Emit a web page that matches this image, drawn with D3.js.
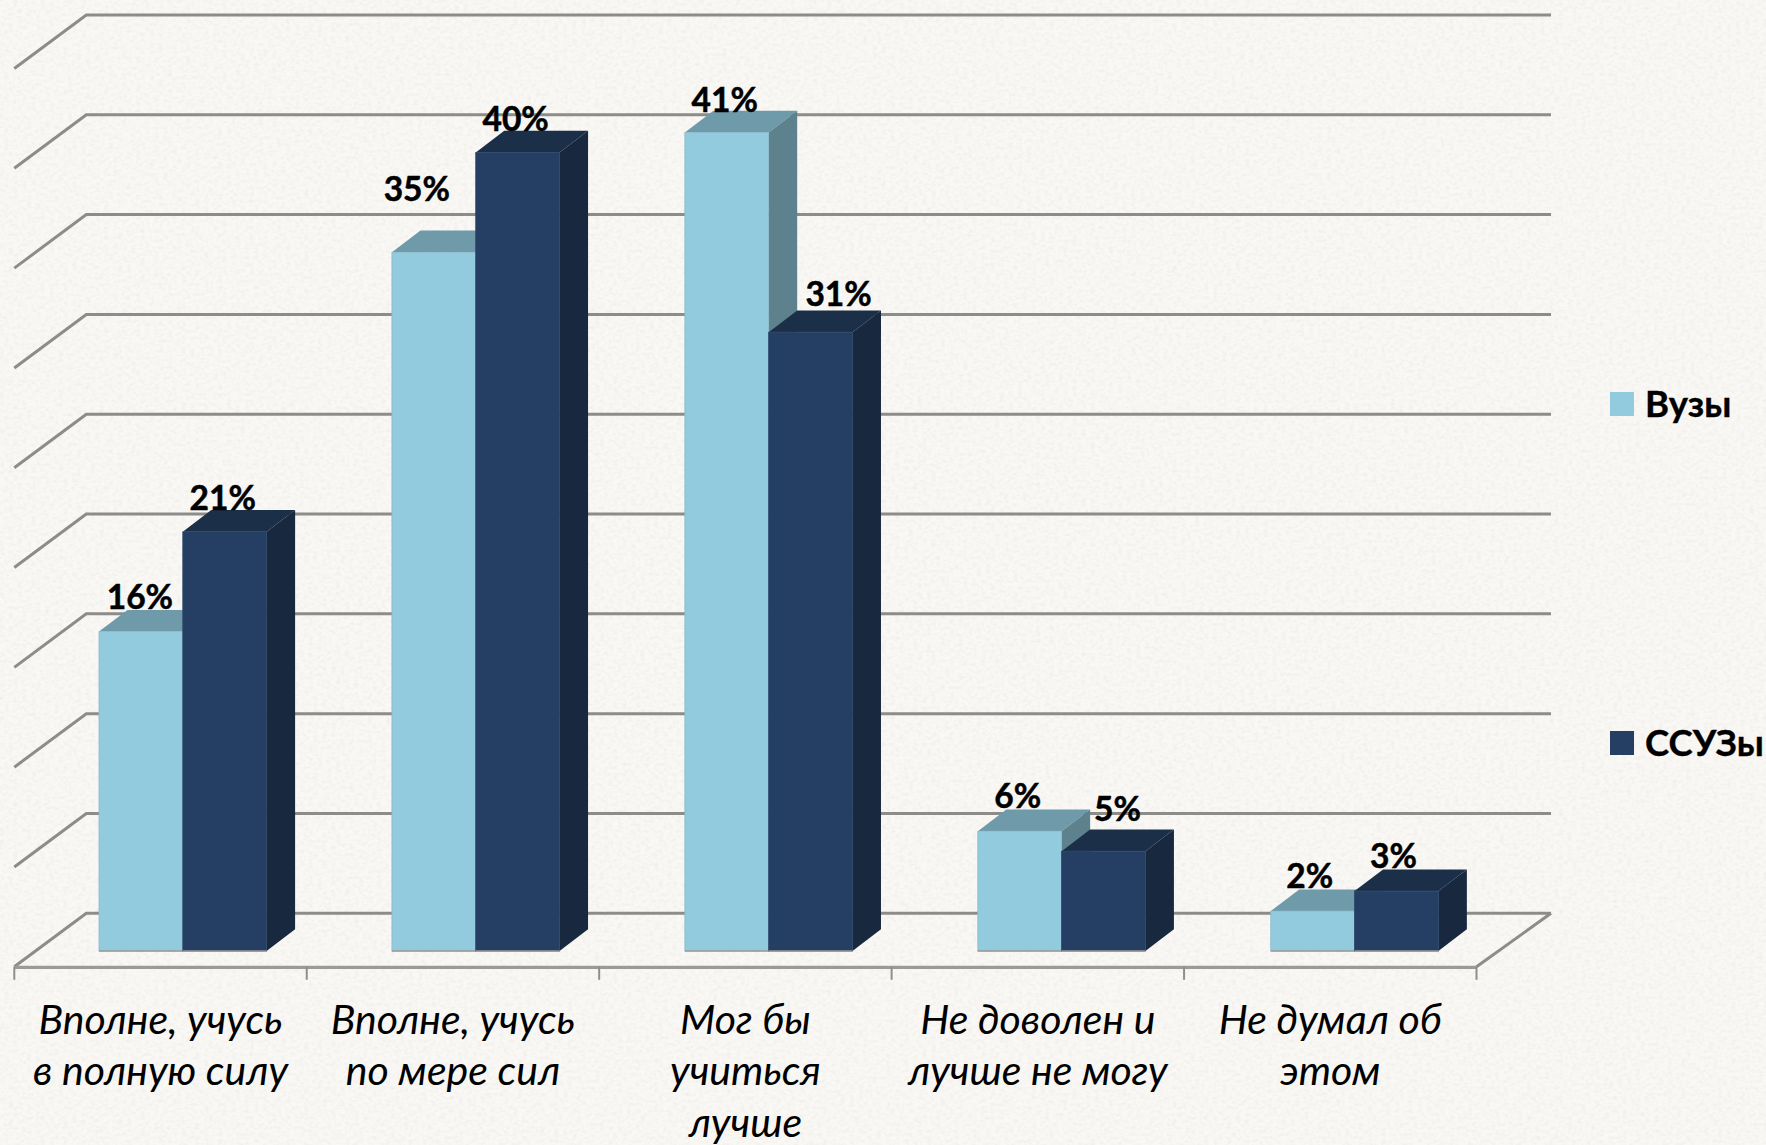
<!DOCTYPE html>
<html>
<head>
<meta charset="utf-8">
<script src="https://cdn.jsdelivr.net/npm/d3@7"></script>
<style>
  html, body { margin: 0; padding: 0; background: #f7f6f2; }
  svg { display: block; }
  text { font-family: Lato, "Open Sans", sans-serif; fill: #000; }
</style>
</head>
<body>
<svg id="chart" width="1766" height="1145"></svg>
<script>
const categories = ["Вполне, учусь в полную силу", "Вполне, учусь по мере сил", "Мог бы учиться лучше", "Не доволен и лучше не могу", "Не думал об этом"];
const categoryLines = [
    ["Вполне, учусь", "в полную силу"],
    ["Вполне, учусь", "по мере сил"],
    ["Мог бы", "учиться", "лучше"],
    ["Не доволен и", "лучше не могу"],
    ["Не думал об", "этом"]
];
const seriesNames = ["Вузы", "ССУЗы"];
const vuzy = [16, 35, 41, 6, 2];
const ssuzy = [21, 40, 31, 5, 3];
const yTicks = [0, 5, 10, 15, 20, 25, 30, 35, 40, 45];

const width = 1766, height = 1145;

// colours for each series: front, top, side
const colors = [
    { front: "#92cbdd", top: "#6f9aa9", side: "#5d818d", edge: "#8ab9ca" },
    { front: "#243f63", top: "#1c2f49", side: "#17283f", edge: "#2c4668" }
];

// wall and floor offsets of the fake 3d box
const wallDx = 72, wallDy = 53.5;
const wallEnd = 1551;
const barDx = 28.5, barDy = 21.7;
const barFront = 37.7; // bars stand this far below the back wall
const barW = 83.8;

// hand placed value labels, [dx, dy] from the middle of the bar's front top edge
const labelNudge = [
    [[-1, -23], [-2, -22]],
    [[-17, -51], [-2, -22]],
    [[-2, -21], [28, -26]],
    [[-2, -23], [14, -30]],
    [[-3, -23], [-3, -23]]
];

const x = d3.scaleBand().domain(categories).range([14.3, 1476.5]);
const y = d3.scaleLinear().domain([0, 45]).range([913.3, 15]);

const svg = d3.select("#chart");

// linen texture
const defs = svg.append("defs");
const filter = defs.append("filter").attr("id", "linen").attr("x", 0).attr("y", 0).attr("width", "100%").attr("height", "100%");
filter.append("feTurbulence").attr("type", "fractalNoise").attr("baseFrequency", "0.22 0.3").attr("numOctaves", 3).attr("seed", 4);
filter.append("feColorMatrix").attr("type", "matrix")
    .attr("values", "0 0 0 0 0.45  0 0 0 0 0.44  0 0 0 0 0.40  0.9 0 0 0 -0.36");

svg.append("rect").attr("width", width).attr("height", height).attr("fill", "#f9f8f5");
svg.append("rect").attr("width", width).attr("height", height).attr("filter", "url(#linen)").attr("opacity", 0.3);

// walls
const grid = svg.append("g").attr("fill", "none").attr("stroke", "#8d8c88").attr("stroke-width", 3);
yTicks.forEach(t => {
    const b = x.range()[0] + wallDx;
    grid.append("path").attr("d", d3.line()([[x.range()[0], y(t) + wallDy], [b, y(t)], [wallEnd, y(t)]]));
});
grid.append("path").attr("d", d3.line()([[x.range()[1], y(0) + wallDy], [wallEnd, y(0)]]));

// floor axis
const axis = d3.axisBottom(x).tickSize(0).tickFormat("");
const axisG = svg.append("g").attr("transform", `translate(0,${y(0) + wallDy})`).call(axis);
axisG.select(".domain").attr("stroke", "#9b9a96").attr("stroke-width", 3.2);
const tickXs = categories.map(c => x(c)).concat(x.range()[1]);
axisG.selectAll(".edge").data(tickXs).join("line").attr("class", "edge")
    .attr("x1", d => d).attr("x2", d => d).attr("y1", 0).attr("y2", 13)
    .attr("stroke", "#8f8e8a").attr("stroke-width", 2);

function drawBar(g, left, value, c) {
    const top = y(value) + barFront, base = y(0) + barFront;
    g.append("polygon").attr("fill", c.top)
        .attr("points", [[left, top], [left + barDx, top - barDy], [left + barW + barDx, top - barDy], [left + barW, top]].join(" "));
    g.append("polygon").attr("fill", c.side)
        .attr("points", [[left + barW, top], [left + barW + barDx, top - barDy], [left + barW + barDx, base - barDy], [left + barW, base]].join(" "));
    g.append("rect").attr("x", left).attr("y", top).attr("width", barW).attr("height", base - top)
        .attr("fill", c.front).attr("stroke", c.edge).attr("stroke-width", 0.8);
    g.append("line").attr("x1", left).attr("x2", left + barW).attr("y1", base).attr("y2", base)
        .attr("stroke", "#9b9a96").attr("stroke-width", 1.6);
}

const bars = svg.append("g");
categories.forEach((cat, i) => {
    const left = x(cat) + 84.7 + i * 0.5;
    drawBar(bars, left, vuzy[i], colors[0]);
    drawBar(bars, left + barW, ssuzy[i], colors[1]);
});

// value labels on top of every bar
const labels = svg.append("g").attr("font-size", 33.5).attr("font-weight", 700).attr("text-anchor", "middle")
    .attr("stroke", "#000").attr("stroke-width", 0.5);
categories.forEach((cat, i) => {
    const left = x(cat) + 84.7 + i * 0.5;
    [vuzy[i], ssuzy[i]].forEach((v, s) => {
        labels.append("text")
            .attr("x", left + barW * s + barW / 2 + labelNudge[i][s][0])
            .attr("y", y(v) + barFront + labelNudge[i][s][1])
            .text(v + "%");
    });
});

// category labels
const catG = svg.append("g").attr("font-size", 41).attr("font-style", "italic").attr("text-anchor", "middle");
categories.forEach((cat, i) => {
    categoryLines[i].forEach((line, k) => {
        catG.append("text").attr("x", x(cat) + x.bandwidth() / 2).attr("y", 1033.5 + k * 51.5).text(line);
    });
});

// legend
const legendY = [416, 755];
seriesNames.forEach((name, i) => {
    svg.append("rect").attr("x", 1610).attr("y", legendY[i] - 24).attr("width", 24).attr("height", 24).attr("fill", colors[i].front);
    svg.append("text").attr("x", 1645).attr("y", legendY[i] + 1).attr("font-size", 36.5).attr("font-weight", 700)
        .attr("stroke", "#000").attr("stroke-width", 0.4).text(name);
});
</script>
</body>
</html>
